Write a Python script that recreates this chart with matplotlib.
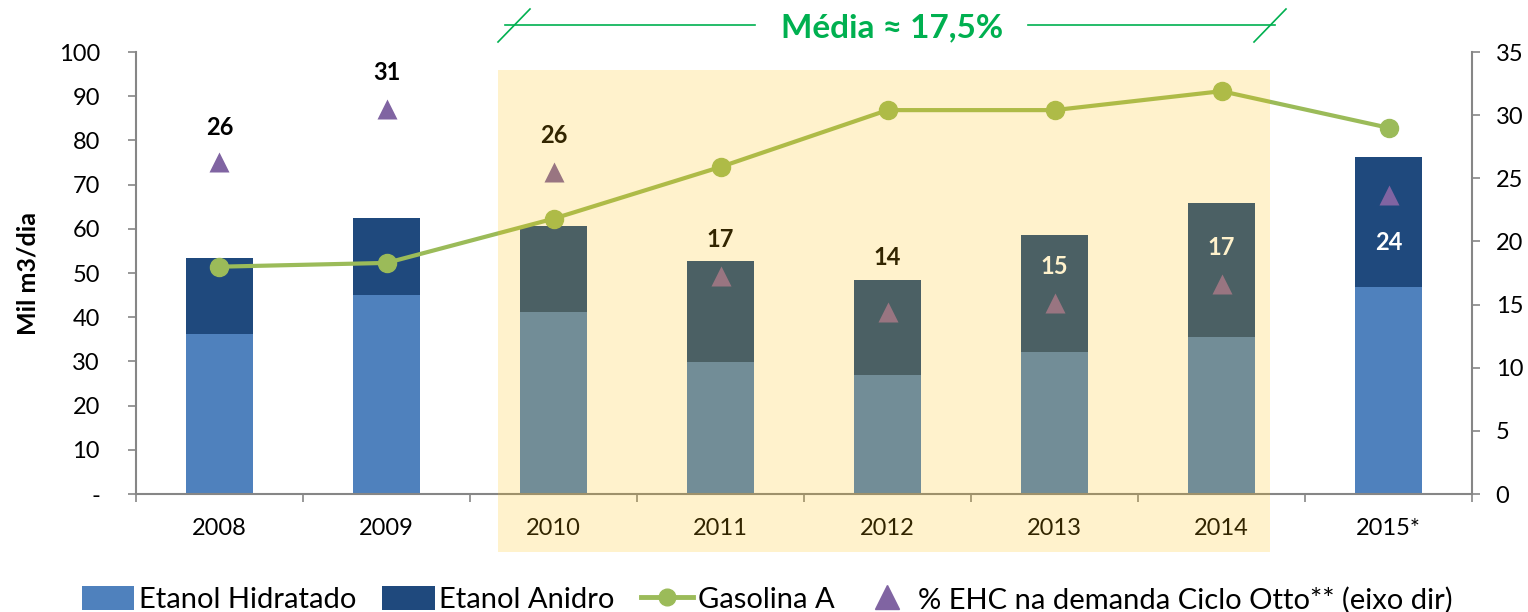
"""
Etanol hidratado + anidro (mil m3/dia), Gasolina A e % EHC na demanda Ciclo Otto.
"""

import matplotlib

matplotlib.use("Agg")

import matplotlib.pyplot as plt
import matplotlib.transforms as mtransforms
import numpy as np
from matplotlib.lines import Line2D
from matplotlib.patches import Patch, Rectangle

plt.rcParams["font.family"] = ["Lato", "DejaVu Sans"]

# ---------------------------------------------------------------------------
# Data
# ---------------------------------------------------------------------------

anos = ["2008", "2009", "2010", "2011", "2012", "2013", "2014", "2015*"]
etanol_hidratado = [36.2, 45.0, 41.2, 29.9, 26.9, 32.1, 35.6, 46.9]
etanol_total = [53.3, 62.4, 60.6, 52.7, 48.4, 58.6, 65.8, 76.3]
etanol_anidro = [t - h for t, h in zip(etanol_total, etanol_hidratado)]
gasolina_a = [18.0, 18.3, 21.8, 25.9, 30.4, 30.4, 31.9, 29.0]
pct_ehc = [26.3, 30.5, 25.5, 17.3, 14.4, 15.1, 16.6, 23.7]
pct_ehc_rotulo = ["26", "31", "26", "17", "14", "15", "17", "24"]

# label placement / colour per point (style only, offsets in points)
rotulo_offset = [25, 26.5, 26.5, 26, 39.5, 26.5, 26.5, -34.5]
rotulo_cor = ["black"] * 5 + ["white"] * 3

COR_HIDR = "#4F81BD"
COR_ANID = "#1F497D"
COR_GAS = "#9BBB59"
COR_EHC = "#8064A2"
COR_EIXO = "#868686"
COR_MEDIA = "#00B050"

# ---------------------------------------------------------------------------
# Plot
# ---------------------------------------------------------------------------

fig = plt.figure(figsize=(15.28, 6.12), dpi=100)
ax = fig.add_axes([0.089, 0.1928, 0.8744, 0.7222])
ax2 = ax.twinx()

x = np.arange(len(anos))
ax.bar(x, etanol_hidratado, width=0.4, color=COR_HIDR, zorder=2)
ax.bar(x, etanol_anidro, width=0.4, bottom=etanol_hidratado, color=COR_ANID, zorder=2)

ax2.plot(x, gasolina_a, "-o", color=COR_GAS, lw=3, ms=13, zorder=3)
ax2.plot(x, pct_ehc, "^", color=COR_EHC, ms=15, mec="none", zorder=4)
for xi, yi, txt, off, c in zip(x, pct_ehc, pct_ehc_rotulo, rotulo_offset, rotulo_cor):
    ax2.annotate(txt, (xi, yi), xytext=(0, off), textcoords="offset points",
                 ha="center", va="center", fontsize=17, fontweight="bold", color=c)

ax.set_xlim(-0.5, len(anos) - 0.5)
ax.set_ylim(0, 100)
ax2.set_ylim(0, 35)

ax.set_yticks(np.arange(0, 101, 10))
ax.set_yticklabels(["-"] + [str(v) for v in range(10, 101, 10)])
ax2.set_yticks(np.arange(0, 36, 5))
ax.set_xticks(x)
ax.set_xticklabels(anos)
ax.set_xticks(np.arange(-0.5, len(anos), 1), minor=True)

ax.tick_params(axis="x", which="major", length=0, labelsize=17, pad=17)
ax.tick_params(axis="x", which="minor", length=6, color=COR_EIXO, width=1.2)
ax.tick_params(axis="y", length=6, color=COR_EIXO, width=1.2, labelsize=17, pad=20)
ax2.tick_params(axis="y", length=6, color=COR_EIXO, width=1.2, labelsize=17, pad=11)

for a in (ax, ax2):
    a.spines["top"].set_visible(False)
    for s in ("left", "right", "bottom"):
        a.spines[s].set_color(COR_EIXO)
        a.spines[s].set_linewidth(1.5)
ax.spines["right"].set_visible(False)
ax2.spines["left"].set_visible(False)
ax2.spines["bottom"].set_visible(False)

ax.set_ylabel("Mil m3/dia", fontsize=18, fontweight="bold", labelpad=14)

# semi-transparent highlight over 2010-2014 (covers bars, line and tick labels)
trans = mtransforms.blended_transform_factory(ax.transData, fig.transFigure)
fig.add_artist(Rectangle((1.668, 0.098), 6.29 - 1.668, 0.886 - 0.098, transform=trans,
                         facecolor=(1.0, 0.745, 0.0), alpha=0.2, edgecolor="none", zorder=10))


# "Média" bracket at the top
def fx(px):
    return px / 1528


def fy(py):
    return 1 - py / 612


for x0, x1 in ((505, 755), (1028, 1275)):
    fig.add_artist(Line2D([fx(x0), fx(x1)], [fy(25), fy(25)], color=COR_MEDIA, lw=1.2))
for xs in (498, 1254):
    fig.add_artist(Line2D([fx(xs), fx(xs + 32)], [fy(42), fy(9)], color=COR_MEDIA, lw=1.2))
fig.text(fx(892), fy(28), "Média ≈ 17,5%", ha="center", va="center",
         fontsize=24, fontweight="bold", color=COR_MEDIA)

handles = [
    Patch(facecolor=COR_HIDR, label="Etanol Hidratado"),
    Patch(facecolor=COR_ANID, label="Etanol Anidro"),
    Line2D([], [], color=COR_GAS, lw=3.5, marker="o", ms=12, label="Gasolina A"),
    Line2D([], [], color=COR_EHC, ls="none", marker="^", ms=17,
           label="% EHC na demanda Ciclo Otto** (eixo dir)"),
]
fig.legend(handles=handles, loc="lower center", bbox_to_anchor=(0.502, -0.045), ncol=4,
           frameon=False, fontsize=21, handlelength=1.8, handleheight=0.9,
           handletextpad=0.15, columnspacing=0.9)

fig.savefig("out.png", dpi=100)
